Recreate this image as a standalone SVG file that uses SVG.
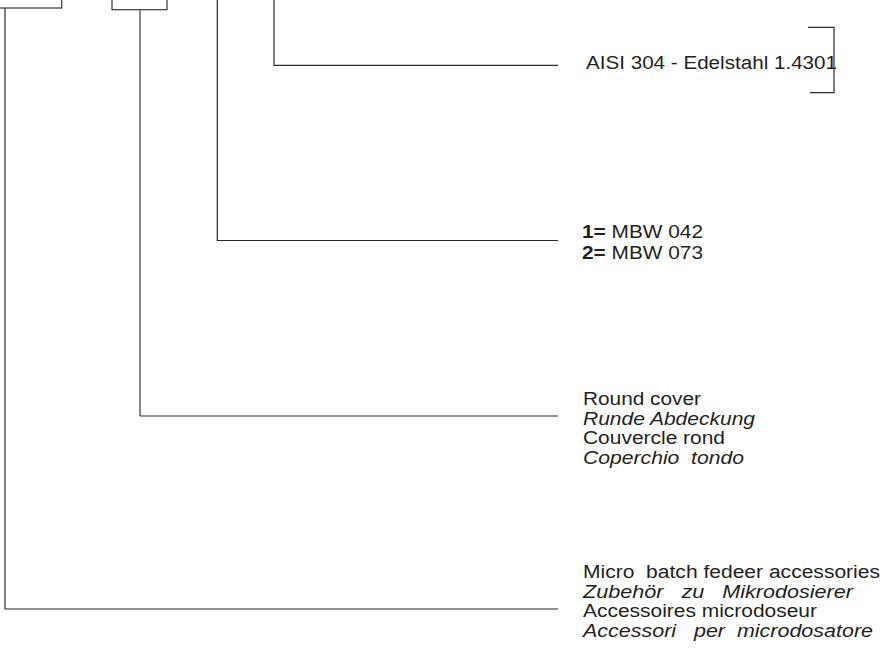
<svg xmlns="http://www.w3.org/2000/svg" width="886" height="664" viewBox="0 0 886 664">
<style>
  .ln { fill: none; stroke: #2a2a2a; stroke-width: 1.2; }
  .ln2 { fill: none; stroke: #6a6a6a; stroke-width: 1.6; }
  .bx { fill: none; stroke: #3a3a3a; stroke-width: 1.2; }
  text { font-family: "Liberation Sans", Arial, sans-serif; font-size: 18px; fill: #231f20; white-space: pre; }
  .it { font-style: italic; }
  .b { font-weight: bold; }
</style>
<rect width="886" height="664" fill="#ffffff"/>
<g id="box1"><rect class="bx" x="-10" y="-10" width="71.7" height="18"/></g>
<g id="box2"><rect class="bx" x="112" y="-10" width="55" height="19.7"/></g>
<g id="connectors">
  <path class="ln" d="M274,0 V65.3 H558"/>
  <path class="ln" d="M217.3,0 V240.5 H558"/>
  <path class="ln2" d="M140,9.7 V416"/>
  <path class="ln" d="M140,416 H558"/>
  <path class="ln" d="M5,8 V609 H558"/>
  <path class="ln" d="M808,27.3 H834 V92.7 H810"/>
</g>
<g id="material">
  <text x="586" y="69" textLength="251" lengthAdjust="spacingAndGlyphs">AISI 304 - Edelstahl 1.4301</text>
</g>
<g id="models">
  <text x="582" y="238" textLength="121" lengthAdjust="spacingAndGlyphs"><tspan class="b">1=</tspan> MBW 042</text>
  <text x="582" y="258.5" textLength="121" lengthAdjust="spacingAndGlyphs"><tspan class="b">2=</tspan> MBW 073</text>
</g>
<g id="cover">
  <text x="583" y="405" textLength="118" lengthAdjust="spacingAndGlyphs">Round cover</text>
  <text class="it" x="583" y="424.7" textLength="172" lengthAdjust="spacingAndGlyphs">Runde Abdeckung</text>
  <text x="583" y="444.3" textLength="142" lengthAdjust="spacingAndGlyphs">Couvercle rond</text>
  <text class="it" x="583" y="464" textLength="161" lengthAdjust="spacingAndGlyphs">Coperchio  tondo</text>
</g>
<g id="accessories">
  <text x="583" y="578" textLength="297" lengthAdjust="spacingAndGlyphs">Micro  batch fedeer accessories</text>
  <text class="it" x="583" y="597.5" textLength="270" lengthAdjust="spacingAndGlyphs">Zubehör   zu   Mikrodosierer</text>
  <text x="583" y="617" textLength="234" lengthAdjust="spacingAndGlyphs">Accessoires microdoseur</text>
  <text class="it" x="583" y="636.7" textLength="290" lengthAdjust="spacingAndGlyphs">Accessori   per  microdosatore</text>
</g>
</svg>
